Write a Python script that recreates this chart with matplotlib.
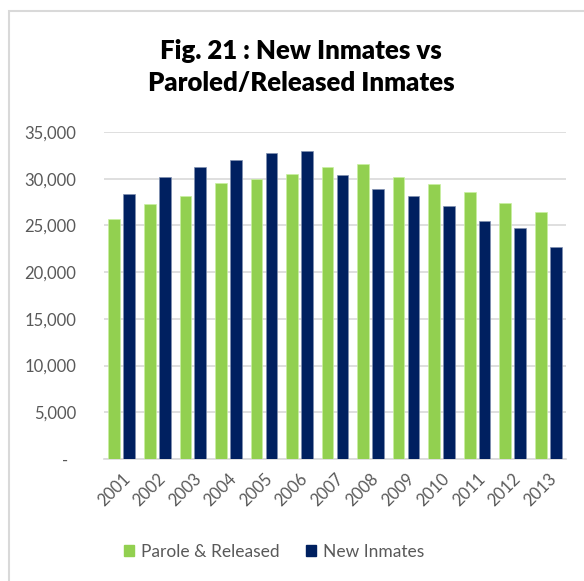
import numpy as np
import matplotlib.pyplot as plt
from matplotlib.patches import Rectangle, Patch
from matplotlib.ticker import FuncFormatter

years = ["2001", "2002", "2003", "2004", "2005", "2006", "2007",
         "2008", "2009", "2010", "2011", "2012", "2013"]
paroled = [25700, 27250, 28100, 29500, 30000, 30550, 31250,
           31600, 30150, 29450, 28550, 27450, 26450]
new_inmates = [28400, 30200, 31300, 32050, 32750, 33000, 30400,
               28900, 28200, 27050, 25450, 24700, 22700]

GREEN = "#92D050"
NAVY = "#002060"
GREY = "#595959"

plt.rcParams["font.family"] = ["Lato", "DejaVu Sans"]

fig = plt.figure(figsize=(5.84, 5.81), dpi=100)

# chart border (light grey, open at right/bottom as in the crop)
fig.patches.append(Rectangle((9 / 584, -0.1), 1.2, 1 - 11 / 581 + 0.1,
                             transform=fig.transFigure, fill=False,
                             edgecolor="#D9D9D9", linewidth=1.5))

ax = fig.add_axes([104 / 584, 1 - 459 / 581, (566 - 104) / 584, (459 - 132) / 581])

x = np.arange(len(years))
w = 0.33
ax.bar(x - 0.21, paroled, w, color=GREEN, edgecolor="#C9F0A0", linewidth=0.5, zorder=3)
ax.bar(x + 0.21, new_inmates, w, color=NAVY, edgecolor="#8090B0", linewidth=0.5, zorder=3)

ax.set_xlim(-0.5, len(years) - 0.5)
ax.set_ylim(0, 35000)
ax.set_yticks(range(0, 35001, 5000))
ax.yaxis.set_major_formatter(FuncFormatter(lambda v, p: "-  " if v == 0 else f"{int(v):,}"))
ax.grid(axis="y", color="#D9D9D9", linewidth=1.2, zorder=0)

for s in ["top", "right", "left"]:
    ax.spines[s].set_visible(False)
ax.spines["bottom"].set_color("#D9D9D9")
ax.spines["bottom"].set_linewidth(1.2)

ax.set_xticks(x)
ax.set_xticklabels(years, rotation=45, ha="right", rotation_mode="anchor")
ax.tick_params(axis="both", length=0, labelsize=12, labelcolor=GREY)
ax.tick_params(axis="y", pad=20)
ax.tick_params(axis="x", pad=8)

fig.text(301 / 584, 1 - 67 / 581, "Fig. 21 : New Inmates vs\nParoled/Released Inmates",
         ha="center", va="center", fontsize=18.5, fontweight="heavy",
         linespacing=1.4, color="black")

handles = [Patch(color=GREEN, label="Parole & Released"),
           Patch(color=NAVY, label="New Inmates")]
fig.legend(handles=handles, loc="center", bbox_to_anchor=(0.469, 1 - 552 / 581),
           ncol=2, frameon=False, fontsize=12.5, labelcolor=GREY,
           handlelength=0.6, handleheight=0.6, handletextpad=0.4,
           columnspacing=1.5)

plt.savefig("out.png", dpi=100)
